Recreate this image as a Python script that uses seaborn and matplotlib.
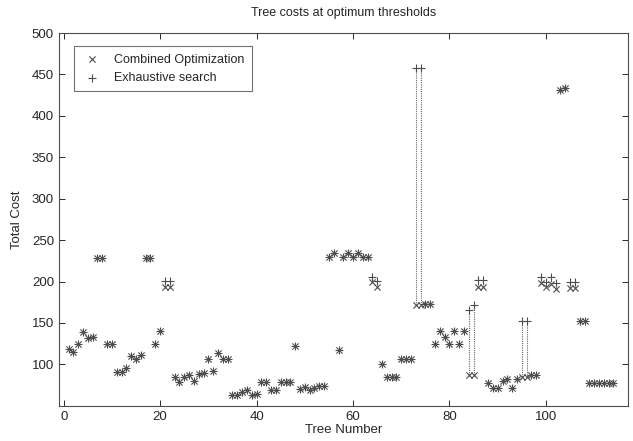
import numpy as np
import pandas as pd
import matplotlib
matplotlib.use("Agg")
import matplotlib.pyplot as plt
import seaborn as sns

# costes (arbol 1..114)
tree = list(range(1, 115))
combined = [118, 115, 124, 139, 132, 133, 228, 228, 125, 125,
            91, 91, 96, 110, 107, 111, 228, 228, 125, 140,
            193, 193, 85, 79, 85, 87, 80, 88, 89, 106,
            92, 114, 106, 106, 63, 63, 66, 69, 63, 64,
            79, 79, 69, 69, 79, 79, 79, 122, 70, 73,
            69, 72, 74, 74, 229, 234, 117, 229, 234, 229,
            234, 229, 229, 199, 193, 100, 85, 85, 85, 106,
            106, 106, 172, 172, 173, 173, 125, 140, 133, 125,
            140, 125, 140, 87, 87, 193, 193, 77, 71, 72,
            80, 82, 72, 82, 85, 85, 87, 87, 198, 193,
            197, 191, 431, 434, 192, 192, 152, 152, 77, 77,
            77, 77, 77, 77]
exhaustive = [118, 115, 124, 139, 132, 133, 228, 228, 125, 125,
              91, 91, 96, 110, 107, 111, 228, 228, 125, 140,
              201, 201, 85, 79, 85, 87, 80, 88, 89, 106,
              92, 114, 106, 106, 63, 63, 66, 69, 63, 64,
              79, 79, 69, 69, 79, 79, 79, 122, 70, 73,
              69, 72, 74, 74, 229, 234, 117, 229, 234, 229,
              234, 229, 229, 205, 201, 100, 85, 85, 85, 106,
              106, 106, 458, 458, 173, 173, 125, 140, 133, 125,
              140, 125, 140, 165, 172, 202, 202, 77, 71, 72,
              80, 82, 72, 82, 152, 152, 87, 87, 205, 200,
              205, 198, 431, 434, 200, 200, 152, 152, 77, 77,
              77, 77, 77, 77]

df = pd.DataFrame({"tree": tree, "combined": combined, "exhaustive": exhaustive})

sns.set_style("ticks")
plt.rcParams["font.family"] = ["Liberation Sans", "DejaVu Sans"]

fig = plt.figure(figsize=(6.33, 4.41), dpi=100)
ax = fig.add_axes([0.093, 0.080, 0.899, 0.845])

# lineas punteadas entre los dos metodos
diff = df[df["combined"] != df["exhaustive"]]
ax.vlines(diff["tree"], diff["combined"], diff["exhaustive"],
          colors="0.4", linestyles=(0, (1, 1)), linewidth=0.8, zorder=1)

sns.scatterplot(data=df, x="tree", y="combined", marker="x", color="0.3",
                s=20, linewidth=0.8, label="Combined Optimization", ax=ax, zorder=3)
sns.scatterplot(data=df, x="tree", y="exhaustive", marker="+", color="0.3",
                s=36, linewidth=0.8, label="Exhaustive search", ax=ax, zorder=3)

ax.set_xlim(-1, 117)
ax.set_ylim(50, 500)
ax.set_xticks([0, 20, 40, 60, 80, 100])
ax.set_yticks(np.arange(100, 501, 50))
ax.tick_params(direction="in", length=4, labelsize=9.5, width=0.7, top=True, right=True)
for sp in ax.spines.values():
    sp.set_linewidth(0.8)
    sp.set_color("0.3")

ax.set_title("Tree costs at optimum thresholds", fontsize=9, pad=12)
ax.set_xlabel("Tree Number", fontsize=9.5, labelpad=1)
ax.set_ylabel("Total Cost", fontsize=9.5, labelpad=6)

leg = ax.legend(loc="upper left", bbox_to_anchor=(0.02, 0.975), fontsize=9,
                frameon=True, fancybox=False, edgecolor="0.3", borderpad=0.6,
                handlelength=1.6, handletextpad=1.0, borderaxespad=0.3)
leg.get_frame().set_linewidth(0.8)

fig.savefig("out.png", dpi=100)
